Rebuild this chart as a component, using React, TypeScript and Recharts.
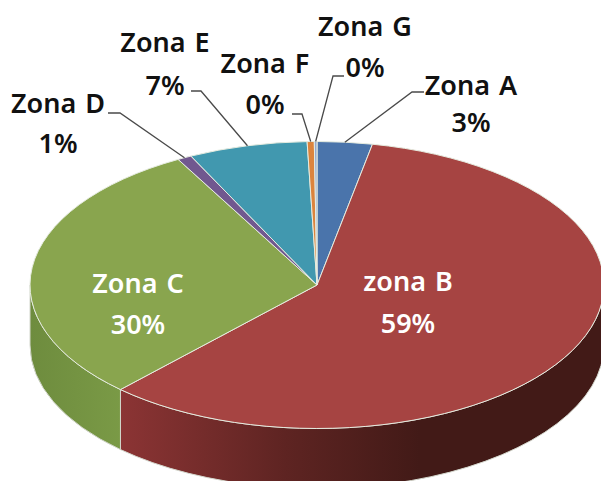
import { PieChart, Pie } from 'recharts'

const zones = ['Zona A', 'zona B', 'Zona C', 'Zona D', 'Zona E', 'Zona F', 'Zona G']
const shares = [3.1, 59, 30, 0.8, 6.7, 0.4, 0.15]
const topColors = ['#4a74ab', '#a64442', '#89a54e', '#71588f', '#4198af', '#db843d', '#93a9cf']
const wallFills = ['#3b5c88', 'url(#wallRed)', 'url(#wallGreen)', '#5a4672', '#33798c', '#ae6930', '#7587a5']

const data = zones.map((name, i) => ({
  name,
  value: shares[i],
  topColor: topColors[i],
  wallFill: wallFills[i],
}))
const total = shares.reduce((a, b) => a + b, 0)

const FLATTEN = 0.5
const DEPTH = 60
const RAD = Math.PI / 180

// where each label sits, and the elbow of its leader line
const labelSpots: Record<string, any> = {
  'Zona A': { x: 471, y1: 95, y2: 132, elbow: [412, 92], end: [424, 92] },
  'zona B': { x: 408, y1: 291, y2: 333, inside: true },
  'Zona C': { x: 138, y1: 293, y2: 334, inside: true },
  'Zona D': { x: 58, y1: 113, y2: 153, elbow: [120, 113], end: [108, 113] },
  'Zona E': { x: 165, y1: 52, y2: 95, elbow: [201, 91], end: [191, 91] },
  'Zona F': { x: 265, y1: 73, y2: 114, elbow: [302, 114], end: [292, 114] },
  'Zona G': { x: 365, y1: 36, y2: 77, elbow: [333, 76], end: [344, 76] },
}

function rim(cx: number, cy: number, r: number, deg: number) {
  return [cx + r * Math.cos(deg * RAD), cy - r * FLATTEN * Math.sin(deg * RAD)]
}

function TopSlice(props: any) {
  const { cx, cy, outerRadius, startAngle, endAngle, payload } = props
  const [x1, y1] = rim(cx, cy, outerRadius, startAngle)
  const [x2, y2] = rim(cx, cy, outerRadius, endAngle)
  const large = Math.abs(startAngle - endAngle) > 180 ? 1 : 0
  const r = outerRadius
  return (
    <path
      d={`M${cx},${cy} L${x1},${y1} A${r},${r * FLATTEN} 0 ${large} 1 ${x2},${y2} Z`}
      fill={payload.topColor}
      stroke="#e6ece0"
      strokeWidth={1}
    />
  )
}

// side of the cake, only the part of each slice that faces the viewer
function WallSlice(props: any) {
  const { cx, cy, outerRadius, startAngle, endAngle, payload } = props
  const from = Math.min(startAngle, 0)
  const to = Math.max(endAngle, -180)
  if (from <= to) return <g />
  const [x1, y1] = rim(cx, cy, outerRadius, from)
  const [x2, y2] = rim(cx, cy, outerRadius, to)
  const r = outerRadius
  const ry = r * FLATTEN
  const d = `M${x1},${y1} A${r},${ry} 0 0 1 ${x2},${y2} L${x2},${y2 + DEPTH} A${r},${ry} 0 0 0 ${x1},${y1 + DEPTH} Z`
  return <path d={d} fill={payload.wallFill} stroke="#d3d6cc" strokeWidth={1} />
}

function SliceLabel(props: any) {
  const { cx, cy, outerRadius, midAngle, name, value } = props
  const spot = labelSpots[name]
  const pct = `${Math.round((value / total) * 100)}%`
  const color = spot.inside ? '#ffffff' : '#111111'
  const start = spot.inside ? null : rim(cx, cy, outerRadius, midAngle)
  const textStyle = {
    fontFamily: '"Noto Sans", sans-serif',
    fontSize: 27,
    fontWeight: 600,
    wordSpacing: 2,
  }
  return (
    <g>
      {start && (
        <polyline
          points={`${start[0]},${start[1]} ${spot.elbow[0]},${spot.elbow[1]} ${spot.end[0]},${spot.end[1]}`}
          fill="none"
          stroke="#4a4a4a"
          strokeWidth={1.3}
        />
      )}
      <text x={spot.x} y={spot.y1} textAnchor="middle" fill={color} style={textStyle}>
        {name}
      </text>
      <text x={spot.x} y={spot.y2} textAnchor="middle" fill={color} style={textStyle}>
        {pct}
      </text>
    </g>
  )
}

export default function App() {
  return (
    <div style={{ position: 'absolute', left: 0, top: 0, width: 601, height: 481, background: '#fff' }}>
      <svg width={0} height={0} style={{ position: 'absolute' }}>
        <defs>
          <linearGradient id="wallRed" gradientUnits="userSpaceOnUse" x1={122} y1={0} x2={420} y2={0}>
            <stop offset="0" stopColor="#8b3434" />
            <stop offset="0.55" stopColor="#5e2422" />
            <stop offset="1" stopColor="#421a17" />
          </linearGradient>
          <linearGradient id="wallGreen" gradientUnits="userSpaceOnUse" x1={30} y1={0} x2={122} y2={0}>
            <stop offset="0" stopColor="#6e8c3e" />
            <stop offset="1" stopColor="#7a9a46" />
          </linearGradient>
        </defs>
      </svg>
      <PieChart width={601} height={481} margin={{ top: 0, right: 0, bottom: 0, left: 0 }}>
        <Pie
          data={data}
          dataKey="value"
          nameKey="name"
          cx={317}
          cy={285}
          outerRadius={287}
          startAngle={90}
          endAngle={-270}
          paddingAngle={0}
          shape={WallSlice}
          isAnimationActive={false}
        />
        <Pie
          data={data}
          dataKey="value"
          nameKey="name"
          cx={317}
          cy={285}
          outerRadius={287}
          startAngle={90}
          endAngle={-270}
          paddingAngle={0}
          shape={TopSlice}
          label={SliceLabel}
          labelLine={false}
          isAnimationActive={false}
        />
      </PieChart>
    </div>
  )
}
